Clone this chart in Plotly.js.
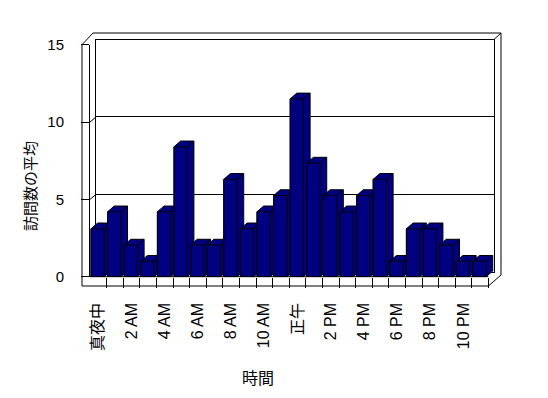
<!DOCTYPE html>
<html><head><meta charset="utf-8">
<script src="https://cdn.plot.ly/plotly-3.0.1.min.js"></script>
<style>html,body{margin:0;padding:0;background:#fff}#chart{width:548px;height:398px}</style>
</head><body><div id="chart"></div>
<script>
// ---- data ----
const hours = [0,1,2,3,4,5,6,7,8,9,10,11,12,13,14,15,16,17,18,19,20,21,22,23];
const avgVisits = [3.1,4.2,2.05,1,4.2,8.4,2.05,2.05,6.3,3.1,4.2,5.25,11.5,7.35,5.25,4.2,5.25,6.3,1,3.1,3.1,2.05,1,1];
const tickHours = [0,2,4,6,8,10,12,14,16,18,20,22];
const tickLabels = ['真夜中','2 AM','4 AM','6 AM','8 AM','10 AM','正午','2 PM','4 PM','6 PM','8 PM','10 PM'];
const yTickValues = [0,5,10,15];
const xTitle = '時間';
const yTitle = '訪問数の平均';

// ---- geometry (pixels) ----
const W = 548, H = 398;
const px = x => x / W, py = y => 1 - y / H;
const FRONT = {l: 90, r: 496.7, t: 44.7, b: 276.7};
const BACK = {l: 96, r: 494, t: 39.5, b: 271.7};
const YMAX = yTickValues[yTickValues.length - 1];
const WALL_DY = (FRONT.b - BACK.b) / ((FRONT.b - FRONT.t) / YMAX);
const BAR_OFFSET = -0.44, BAR_WIDTH = 0.8, DEPTH_X = 0.4, DEPTH_Y = 0.37;
const FONT = 'Liberation Sans, Arial, Noto Sans CJK JP, sans-serif';
const CJK = 'Noto Sans CJK JP, sans-serif';

// 3D top and side faces of each column, built from the values
const sx = [], sy = [];
hours.forEach((h, i) => {
  const v = avgVisits[i], x0 = h + BAR_OFFSET, x1 = x0 + BAR_WIDTH;
  sx.push(x0, x0, x0 + DEPTH_X, x1 + DEPTH_X, x1 + DEPTH_X, x1, x0, null, x1, x1 + DEPTH_X, null);
  sy.push(0, v, v + DEPTH_Y, v + DEPTH_Y, DEPTH_Y, 0, 0, null, v, v + DEPTH_Y, null);
});
const boundaries = hours.slice(1).map(h => h - 0.5).concat([hours[hours.length - 1] + 0.5]);

const traces = [
  {type: 'scatter', x: [], y: [], xaxis: 'x', yaxis: 'y', showlegend: false, hoverinfo: 'skip'},
  {type: 'scatter', mode: 'lines', x: sx, y: sy, xaxis: 'x2', yaxis: 'y2', fill: 'toself',
   fillcolor: '#000080', line: {color: '#000', width: 1}, showlegend: false, hoverinfo: 'skip'},
  {type: 'bar', x: hours, y: avgVisits, xaxis: 'x2', yaxis: 'y3', width: BAR_WIDTH, offset: BAR_OFFSET,
   marker: {color: '#000080', line: {color: '#000', width: 1}}, showlegend: false, hoverinfo: 'skip'}
];

const line = (x0, y0, x1, y1) => ({type: 'line', xref: 'paper', yref: 'paper',
  x0: px(x0), y0: py(y0), x1: px(x1), y1: py(y1), line: {color: '#000', width: 1}});

const shapes = [
  {type: 'path', xref: 'paper', yref: 'paper',
   path: `M${px(82)},${py(286)} L${px(82)},${py(44.7)} L${px(93)},${py(33)} L${px(501)},${py(33)} L${px(501)},${py(275)} L${px(488.4)},${py(286)} Z`,
   line: {color: '#000', width: 1}},
  line(BACK.r, BACK.t, 501, 33),
  line(FRONT.l, FRONT.b, 488.4, FRONT.b)
];
yTickValues.filter(v => v > 0).forEach(v => {
  shapes.push({type: 'line', xref: 'paper', yref: 'y2', x0: px(FRONT.l), y0: v, x1: px(BACK.l), y1: v + WALL_DY,
    line: {color: '#000', width: 1}});
});

const layout = {
  width: W, height: H, margin: {l: 0, r: 0, t: 0, b: 0},
  paper_bgcolor: '#fff', plot_bgcolor: 'rgba(0,0,0,0)',
  font: {family: FONT, color: '#000', size: 14},
  showlegend: false,
  xaxis: {domain: [px(BACK.l), px(BACK.r)], range: [-0.5, 23.5], anchor: 'y', showline: true, mirror: true,
    linecolor: '#000', linewidth: 1, showgrid: false, zeroline: false, showticklabels: false, ticks: '', fixedrange: true},
  yaxis: {domain: [py(BACK.b), py(BACK.t)], range: [0, YMAX], anchor: 'x', showline: true, mirror: true,
    linecolor: '#000', linewidth: 1, showgrid: true, gridcolor: '#000', gridwidth: 1, tickmode: 'array',
    tickvals: yTickValues, zeroline: false, showticklabels: false, ticks: '', fixedrange: true},
  xaxis2: {domain: [px(FRONT.l), px(FRONT.r)], range: [-0.5, 24], anchor: 'y2', showline: false, showgrid: false,
    zeroline: false, tickmode: 'array', tickvals: tickHours, ticktext: tickLabels, tickangle: -90, ticks: '',
    tickfont: {family: FONT, size: 16, color: '#000'}, ticklabelstandoff: 22,
    minor: {tickmode: 'array', tickvals: boundaries, ticks: 'outside', ticklen: 10, tickcolor: '#000', tickwidth: 1, showgrid: false},
    fixedrange: true},
  yaxis2: {domain: [py(FRONT.b), py(FRONT.t)], range: [0, YMAX], anchor: 'x2', showline: true, linecolor: '#000',
    linewidth: 1, showgrid: false, zeroline: false, tickmode: 'array', tickvals: yTickValues, ticks: 'outside',
    ticklen: 8, tickcolor: '#000', tickwidth: 1, tickfont: {family: FONT, size: 15, color: '#000'},
    ticklabelstandoff: 14, fixedrange: true},
  yaxis3: {overlaying: 'y2', range: [0, YMAX], visible: false, fixedrange: true},
  shapes: shapes,
  annotations: [
    {text: xTitle, xref: 'paper', yref: 'paper', x: px(258), y: py(377), showarrow: false,
     font: {family: CJK, size: 16, color: '#000'}, xanchor: 'center', yanchor: 'middle'},
    {text: yTitle, xref: 'paper', yref: 'paper', x: px(29), y: py(186), showarrow: false, textangle: -90,
     font: {family: CJK, size: 15, color: '#000'}, xanchor: 'center', yanchor: 'middle'}
  ]
};

Plotly.newPlot('chart', traces, layout, {displayModeBar: false, staticPlot: true});
</script></body></html>
